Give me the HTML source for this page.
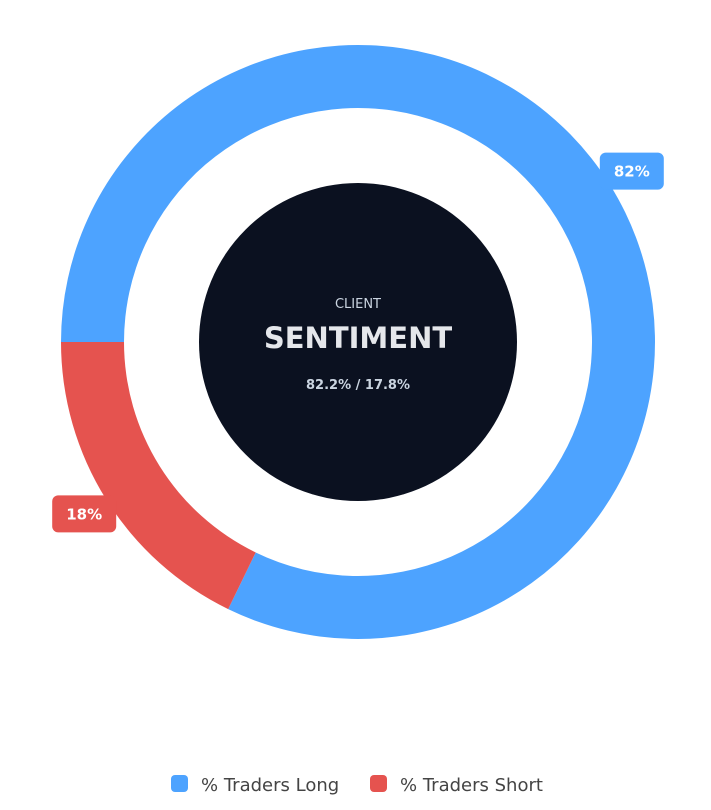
<!DOCTYPE html>
<html><head><meta charset="utf-8"><style>
html,body{margin:0;padding:0;background:#fff;width:711px;height:810px;overflow:hidden;font-family:"DejaVu Sans","Liberation Sans",sans-serif}
</style></head><body>
<svg id="chart" width="711" height="810">
<g id="arcs"></g>
<circle cx="358" cy="342" r="159" fill="#0b1120"/>
<text x="358" y="308" text-anchor="middle" font-size="13" fill="#cbd5e1">CLIENT</text>
<text x="358" y="348" text-anchor="middle" font-size="29" font-weight="bold" fill="#e5e7eb">SENTIMENT</text>
<text x="358" y="389" text-anchor="middle" font-size="13" font-weight="bold" fill="#cbd5e1">82.2% / 17.8%</text>
<g id="labels"></g>
<g>
<rect x="171" y="775" width="17" height="17" rx="4" fill="#4da3ff"/>
<text x="201" y="791" font-size="18" fill="#444">% Traders Long</text>
<rect x="370" y="775" width="17" height="17" rx="4" fill="#e5534f"/>
<text x="400" y="791" font-size="18" fill="#444">% Traders Short</text>
</g>
</svg>
<script>
const categories = ["% Traders Long", "% Traders Short"];
const values = [82.2, 17.8];
const labels = ["82%", "18%"];
const colors = ["#4da3ff", "#e5534f"];
const cx = 358, cy = 342, R = 297, r = 234, startDeg = 270, labelR = 323;
const ns = "http://www.w3.org/2000/svg";
const total = values.reduce((a, b) => a + b, 0);
function pt(deg, rad) { const a = deg * Math.PI / 180; return [cx + rad * Math.sin(a), cy - rad * Math.cos(a)]; }
let ang = startDeg;
const arcs = document.getElementById('arcs');
const lg = document.getElementById('labels');
values.forEach((v, i) => {
  const sweep = v / total * 360;
  const a0 = ang, a1 = ang + sweep;
  const large = sweep > 180 ? 1 : 0;
  const p0 = pt(a0, R), p1 = pt(a1, R), q1 = pt(a1, r), q0 = pt(a0, r);
  const path = document.createElementNS(ns, 'path');
  path.setAttribute('d', `M${p0[0]},${p0[1]} A${R},${R} 0 ${large} 1 ${p1[0]},${p1[1]} L${q1[0]},${q1[1]} A${r},${r} 0 ${large} 0 ${q0[0]},${q0[1]} Z`);
  path.setAttribute('fill', colors[i]);
  
  
  arcs.appendChild(path);
  const lp = pt((a0 + a1) / 2, labelR);
  const rect = document.createElementNS(ns, 'rect');
  rect.setAttribute('x', lp[0] - 32); rect.setAttribute('y', lp[1] - 18);
  rect.setAttribute('width', 64); rect.setAttribute('height', 37);
  rect.setAttribute('rx', 6); rect.setAttribute('fill', colors[i]);
  
  
  lg.appendChild(rect);
  const t = document.createElementNS(ns, 'text');
  t.setAttribute('x', lp[0]); t.setAttribute('y', lp[1] + 6);
  t.setAttribute('text-anchor', 'middle'); t.setAttribute('font-size', '15');
  t.setAttribute('font-weight', 'bold'); t.setAttribute('fill', '#fff');
  t.textContent = labels[i];
  
  
  lg.appendChild(t);
  ang = a1;
});
</script>
</body></html>
